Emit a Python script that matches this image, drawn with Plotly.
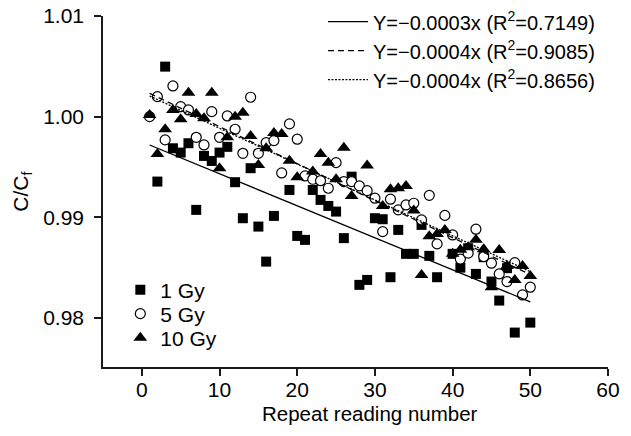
import numpy as np
import plotly.graph_objects as go

# ---------------- data ----------------
x_1gy = [2, 3, 4, 5, 6, 7, 8, 9, 10, 11, 12, 13, 14, 15, 16, 17, 19, 20, 21, 22, 23, 24, 25,
         26, 27, 28, 29, 30, 31, 32, 33, 34, 35, 36, 37, 38, 40, 41, 42, 43, 44, 45, 46, 47, 48, 50]
y_1gy = [0.99355, 1.00497, 0.99686, 0.99643, 0.99736, 0.99074, 0.99610, 0.99560, 0.99643, 0.99700,
         0.99349, 0.98991, 0.99488, 0.98908, 0.98560, 0.99014, 0.99272, 0.98815, 0.98776, 0.99272,
         0.99173, 0.99113, 0.99057, 0.98793, 0.99404, 0.98329, 0.98378, 0.98991, 0.98981, 0.98405,
         0.98875, 0.98637, 0.98637, 0.98925, 0.98617, 0.98405, 0.98637, 0.98500, 0.98693, 0.98438,
         0.98604, 0.98362, 0.98173, 0.98495, 0.97855, 0.97954]

x_5gy = list(range(1, 51))
y_5gy = [1.00000, 1.00199, 0.99769, 1.00305, 1.00099, 1.00067, 0.99795, 0.99719, 1.00050, 0.99795,
         1.00007, 0.99875, 0.99636, 1.00193, 0.99636, 0.99742, 0.99762, 0.99441, 0.99928, 0.99776,
         0.99411, 0.99378, 0.99364, 0.99289, 0.99543, 0.99355, 0.99355, 0.99312, 0.99265, 0.99190,
         0.98858, 0.99180, 0.99074, 0.99123, 0.99140, 0.98974, 0.99218, 0.98736, 0.99019, 0.98825,
         0.98585, 0.98644, 0.98882, 0.98610, 0.98544, 0.98438, 0.98362, 0.98550, 0.98229, 0.98306]

x_10gy = [1, 2, 3, 4, 5, 6, 7, 8, 9, 10, 11, 12, 13, 14, 15, 16, 17, 18, 19, 20, 22, 23, 24, 25,
          26, 27, 29, 31, 32, 33, 34, 35, 36, 37, 38, 39, 40, 41, 42, 43, 44, 45, 46, 47, 48, 49, 50]
y_10gy = [1.00017, 0.99630, 0.99875, 1.00067, 0.99974, 1.00238, 1.00027, 0.99984, 1.00238, 0.99488,
          0.99795, 1.00000, 1.00040, 0.99808, 0.99520, 0.99686, 0.99838, 0.99828, 0.99563, 0.99398,
          0.99454, 0.99630, 0.99543, 0.99378, 0.99691, 0.99213, 0.99515, 0.99113, 0.99279, 0.99289,
          0.99312, 0.99067, 0.98428, 0.98812, 0.98835, 0.98875, 0.98637, 0.98677, 0.98703, 0.98776,
          0.98683, 0.98306, 0.98676, 0.98517, 0.98378, 0.98517, 0.98418]

series_names = ["1 Gy", "5 Gy", "10 Gy"]
fit_labels = ["Y=\u22120.0003x (R<sup>2</sup>=0.7149)",
              "Y=\u22120.0004x (R<sup>2</sup>=0.9085)",
              "Y=\u22120.0004x (R<sup>2</sup>=0.8656)"]
x_ticks = [0, 10, 20, 30, 40, 50, 60]
y_ticks = [0.98, 0.99, 1.00, 1.01]
y_ticktext = ["0.98", "0.99", "1.00", "1.01"]
x_title = "Repeat reading number"
y_title = "C/C<sub>f</sub>"

FONT = "Arial, 'Liberation Sans', sans-serif"

fig = go.Figure()

marker_styles = [
    dict(symbol="square", size=10, color="black", line=dict(width=0)),
    dict(symbol="circle", size=10, color="white", line=dict(color="black", width=1.2)),
    dict(symbol="triangle-up", size=12, color="black", line=dict(width=0)),
]
xs = [x_1gy, x_5gy, x_10gy]
ys = [y_1gy, y_5gy, y_10gy]
legend_ids = ["legend2", "legend3", "legend4"]

for name, xv, yv, ms, lg in zip(series_names, xs, ys, marker_styles, legend_ids):
    fig.add_trace(go.Scatter(x=xv, y=yv, mode="markers", name=name, marker=ms,
                             legend=lg, showlegend=True, cliponaxis=False))

x_all = [v for xv in xs for v in xv]
x_line = np.array([min(x_all), max(x_all)], dtype=float)
dashes = ["solid", "6px,4px", "2px,1.5px"]
for label, xv, yv, d in zip(fit_labels, xs, ys, dashes):
    slope, intercept = np.polyfit(xv, yv, 1)
    fig.add_trace(go.Scatter(x=x_line, y=slope * x_line + intercept, mode="lines", name=label,
                             line=dict(color="black", width=1.3, dash=d), legend="legend"))

axis_common = dict(showgrid=False, zeroline=False, showline=True, linecolor="#1a1a1a",
                   linewidth=1.5, ticks="outside", ticklen=7, tickwidth=1.5,
                   tickcolor="#1a1a1a", tickfont=dict(family=FONT, size=21, color="black"),
                   mirror=False, automargin=False)

fig.update_layout(
    width=631, height=436,
    margin=dict(l=103, r=23, t=0, b=69),
    paper_bgcolor="white", plot_bgcolor="white",
    font=dict(family=FONT, color="black"),
    xaxis=dict(range=[-5, 60], tickvals=x_ticks, ticklabelstandoff=-4, **axis_common),
    yaxis=dict(range=[0.97513, 1.01], tickvals=y_ticks, ticktext=y_ticktext,
               domain=[0, 0.9564], ticklabelstandoff=6,
               title=dict(text=y_title, font=dict(family=FONT, size=21), standoff=9),
               **axis_common),
    legend=dict(x=0.4356, y=0.994, xanchor="left", yanchor="top", bgcolor="rgba(0,0,0,0)",
                font=dict(family=FONT, size=20), itemwidth=40, tracegroupgap=0),
    legend2=dict(x=0.0343, y=0.2098, xanchor="left", yanchor="middle", bgcolor="rgba(0,0,0,0)",
                 font=dict(family=FONT, size=21)),
    legend3=dict(x=0.0343, y=0.1444, xanchor="left", yanchor="middle", bgcolor="rgba(0,0,0,0)",
                 font=dict(family=FONT, size=21)),
    legend4=dict(x=0.0343, y=0.0790, xanchor="left", yanchor="middle", bgcolor="rgba(0,0,0,0)",
                 font=dict(family=FONT, size=21)),
    annotations=[dict(text=x_title, xref="paper", yref="paper", x=0.529, y=-0.128,
                      xanchor="center", yanchor="middle", showarrow=False,
                      font=dict(family=FONT, size=20.5, color="black"))],
)

fig.write_html("out.html", config={"displayModeBar": False},
               post_script="document.body.style.margin='0px';document.body.style.padding='0px';")
